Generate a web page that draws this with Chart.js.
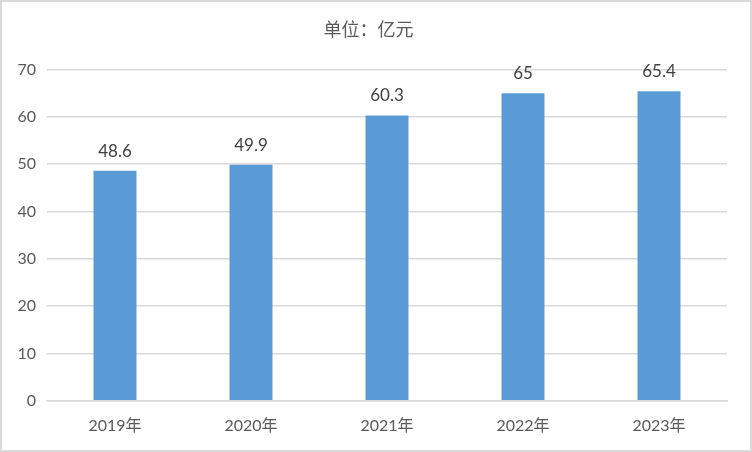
<!DOCTYPE html>
<html><head><meta charset="utf-8">
<script src="https://cdn.jsdelivr.net/npm/chart.js@4/dist/chart.umd.min.js"></script>
<style>html,body{margin:0;padding:0;background:#fff}#wrap{width:752px;height:452px;position:relative}</style>
</head><body><div id="wrap"><canvas id="c" width="752" height="452"></canvas></div>
<script>
const categories = ["2019年","2020年","2021年","2022年","2023年"];
const values = [48.6, 49.9, 60.3, 65, 65.4];
const valueLabels = ["48.6","49.9","60.3","65","65.4"];
const titleText = "单位：亿元";
const FONT = 'Lato, "Noto Sans CJK SC", sans-serif';

const labelPlugin = {
  id: 'vals',
  afterDatasetsDraw(chart) {
    const ctx = chart.ctx;
    const meta = chart.getDatasetMeta(0);
    ctx.save();
    ctx.font = '17px ' + FONT;
    ctx.fillStyle = '#404040';
    ctx.textAlign = 'center';
    ctx.textBaseline = 'bottom';
    meta.data.forEach((bar, i) => {
      ctx.fillText(valueLabels[i], bar.x, bar.y - 11);
    });
    ctx.restore();
  }
};
const borderPlugin = {
  id: 'frame',
  beforeDraw(chart) {
    const ctx = chart.ctx;
    ctx.save();
    ctx.fillStyle = '#fff';
    ctx.fillRect(0, 0, chart.width, chart.height);
    ctx.restore();
  },
  afterDraw(chart) {
    const ctx = chart.ctx;
    ctx.save();
    ctx.strokeStyle = '#d9d9d9';
    ctx.lineWidth = 2;
    ctx.strokeRect(1, 1, chart.width - 2, chart.height - 2);
    ctx.restore();
  }
};

new Chart(document.getElementById('c'), {
  type: 'bar',
  data: {
    labels: categories,
    datasets: [{
      data: values,
      backgroundColor: '#5B9BD5',
      categoryPercentage: 1,
      barPercentage: 0.316
    }]
  },
  options: {
    responsive: false,
    animation: false,
    layout: { padding: { top: 19, right: 25, left: 10, bottom: 2 } },
    plugins: {
      legend: { display: false },
      tooltip: { enabled: false },
      title: {
        display: true,
        text: titleText,
        color: '#595959',
        font: { family: FONT, size: 18, weight: 'normal' },
        padding: { top: 0, bottom: 29 }
      }
    },
    scales: {
      x: {
        grid: { display: false, drawTicks: false },
        border: { display: true, color: '#d9d9d9', width: 1.5 },
        ticks: { color: '#595959', font: { family: FONT, size: 16 }, padding: 15 }
      },
      y: {
        min: 0, max: 70,
        afterFit(s) { s.width = 37; },
        grid: { color: '#d9d9d9', lineWidth: 1.5, drawTicks: false },
        border: { display: false },
        ticks: { stepSize: 10, color: '#595959', font: { family: FONT, size: 16 }, padding: 11 }
      }
    }
  },
  plugins: [borderPlugin, labelPlugin]
});
</script></body></html>
